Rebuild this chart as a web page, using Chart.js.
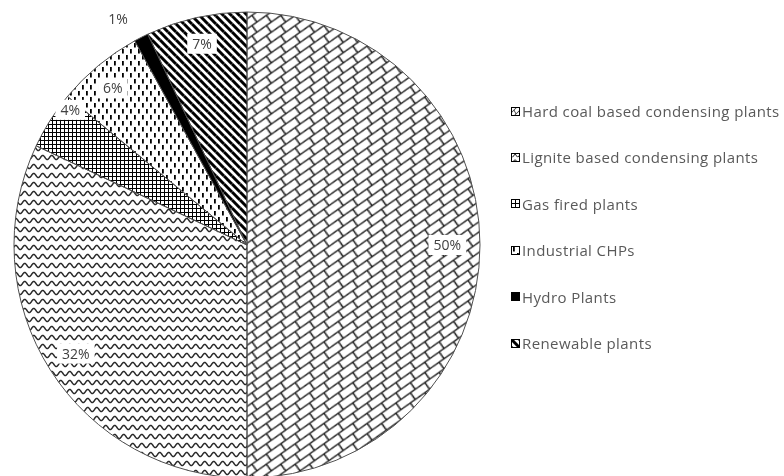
<!DOCTYPE html>
<html>
<head>
<meta charset="utf-8">
<script src="https://cdn.jsdelivr.net/npm/chart.js@4/dist/chart.umd.min.js"></script>
<style>
  html, body { margin: 0; padding: 0; background: #fff; overflow: hidden; }
  #wrap { position: relative; width: 784px; height: 480px; }
  #legend { position: absolute; left: 511px; top: 0; font-family: "Open Sans", sans-serif; font-size: 15px; letter-spacing: 0.4px; color: #595959; }
  .item { position: absolute; left: 0; height: 20px; display: flex; align-items: center; white-space: nowrap; }
  .item canvas { margin-right: 2px; }
</style>
</head>
<body>
<div id="wrap">
  <canvas id="pie" width="784" height="480"></canvas>
  <div id="legend"></div>
</div>
<script>
// data
const categories = [
  'Hard coal based condensing plants',
  'Lignite based condensing plants',
  'Gas fired plants',
  'Industrial CHPs',
  'Hydro Plants',
  'Renewable plants'
];
const shares = [50, 32, 4, 6, 1, 7];

// where each % label sits: fraction of the radius, and a small turn in degrees
const labelRadius = [0.86, 0.87, 0.955, 0.885, 1.117, 0.885];
const labelTurn = [0, 0, 5, -1, -2.7, 0];

// fill patterns, drawn on little tiles
function tile(w, h, draw) {
  const c = document.createElement('canvas');
  c.width = w; c.height = h;
  const t = c.getContext('2d');
  draw(t, w, h);
  return c;
}

function repeat9(t, w, h, path) {
  for (const dx of [-w, 0, w]) {
    for (const dy of [-h, 0, h]) {
      t.save(); t.translate(dx, dy); path(t); t.restore();
    }
  }
}

function makePatterns(ctx, small) {
  const brick = tile(12, 12, (t, w, h) => {
    t.strokeStyle = '#262626'; t.lineWidth = 1.5;
    repeat9(t, w, h, p => {
      p.beginPath();
      p.moveTo(0, 12); p.lineTo(12, 0);
      p.moveTo(6, 6); p.lineTo(10, 14);
      p.stroke();
    });
  });
  const wave = tile(9, 9, (t) => {
    t.strokeStyle = '#2a2a2a'; t.lineWidth = 1.4;
    t.beginPath();
    for (let x = -1; x <= 10; x += 0.5) {
      const y = 4.5 + 2.1 * Math.sin(2 * Math.PI * x / 9);
      if (x === -1) t.moveTo(x, y); else t.lineTo(x, y);
    }
    t.stroke();
  });
  const grid = tile(4, 4, (t) => {
    t.fillStyle = '#000';
    t.fillRect(0, 0, 4, 1);
    t.fillRect(0, 0, 1, 4);
  });
  const dashes = tile(8, 12, (t) => {
    t.fillStyle = '#000';
    t.fillRect(2, 1, 1.8, 4.5);
    t.fillRect(6, 7, 1.8, 4.5);
  });
  const stripes = tile(8, 8, (t, w, h) => {
    t.strokeStyle = '#000'; t.lineWidth = 3;
    repeat9(t, w, h, p => {
      p.beginPath(); p.moveTo(0, 0); p.lineTo(8, 8); p.stroke();
    });
  });

  const pBrick = ctx.createPattern(brick, 'repeat');
  if (pBrick.setTransform) {
    const m = small ? new DOMMatrix().scale(0.5, 0.5) : new DOMMatrix().scale(1.2, 0.85);
    pBrick.setTransform(m);
  }
  const pWave = ctx.createPattern(wave, 'repeat');
  if (small && pWave.setTransform) pWave.setTransform(new DOMMatrix().scale(0.6, 0.6));
  return [
    pBrick,
    pWave,
    ctx.createPattern(grid, 'repeat'),
    ctx.createPattern(dashes, 'repeat'),
    '#000',
    ctx.createPattern(stripes, 'repeat')
  ];
}

// percent labels in white boxes
const pieLabels = {
  id: 'pieLabels',
  afterDatasetsDraw(chart) {
    const ctx = chart.ctx;
    const meta = chart.getDatasetMeta(0);
    ctx.save();
    ctx.font = '14px "Open Sans", sans-serif';
    ctx.textAlign = 'center';
    ctx.textBaseline = 'middle';
    meta.data.forEach((arc, i) => {
      const p = arc.getProps(['x', 'y', 'startAngle', 'endAngle', 'outerRadius'], true);
      const mid = (p.startAngle + p.endAngle) / 2 + labelTurn[i] * Math.PI / 180;
      const r = p.outerRadius * labelRadius[i];
      const lx = p.x + Math.cos(mid) * r;
      const ly = p.y + Math.sin(mid) * r;
      const text = shares[i] + '%';
      const w = ctx.measureText(text).width + 10;
      ctx.fillStyle = '#fff';
      ctx.fillRect(lx - w / 2, ly - 10, w, 20);
      ctx.fillStyle = '#404040';
      ctx.fillText(text, lx, ly + 1);
    });
    ctx.restore();
  }
};

const ctx = document.getElementById('pie').getContext('2d');
const fills = makePatterns(ctx, false);

new Chart(ctx, {
  type: 'pie',
  data: {
    labels: categories,
    datasets: [{
      data: shares,
      backgroundColor: fills,
      hoverBackgroundColor: fills,
      borderColor: '#505050',
      hoverBorderColor: '#505050',
      borderWidth: 1,
      hoverBorderWidth: 1
    }]
  },
  options: {
    responsive: false,
    animation: false,
    layout: { padding: { left: 13.5, right: 303.5, top: 11.5, bottom: 1.5 } },
    plugins: {
      legend: { display: false },
      tooltip: { enabled: false }
    }
  },
  plugins: [pieLabels]
});

// legend on the right
const legend = document.getElementById('legend');
categories.forEach((name, i) => {
  const item = document.createElement('div');
  item.className = 'item';
  item.style.top = (101 + i * 46.4) + 'px';
  const sw = document.createElement('canvas');
  sw.width = 9; sw.height = 9;
  const sctx = sw.getContext('2d');
  sctx.fillStyle = makePatterns(sctx, true)[i];
  sctx.fillRect(0, 0, 9, 9);
  sctx.strokeStyle = '#000';
  sctx.lineWidth = 1;
  sctx.strokeRect(0.5, 0.5, 8, 8);
  item.appendChild(sw);
  const span = document.createElement('span');
  span.textContent = name;
  item.appendChild(span);
  legend.appendChild(item);
});
</script>
</body>
</html>
